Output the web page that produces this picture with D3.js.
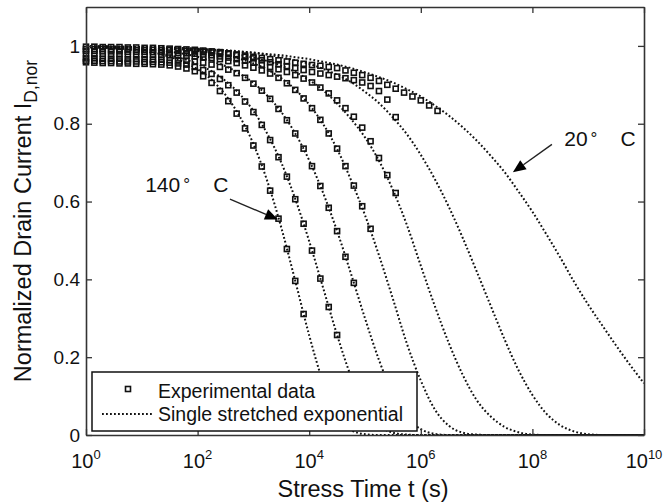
<!DOCTYPE html>
<html><head><meta charset="utf-8">
<script src="https://cdn.jsdelivr.net/npm/d3@7"></script>
<style>
body{margin:0;background:#fff}
svg{display:block}
text{font-family:"Liberation Sans",Arial,Helvetica,sans-serif;fill:#111}
</style>
</head><body>
<svg id="c" width="664" height="503"></svg>
<script>
// ---------- data (log10 of stress time, normalized current) ----------
const xTickExps = [0, 2, 4, 6, 8, 10];
const yTicks = [0, 0.2, 0.4, 0.6, 0.8, 1];

// grid for the fitted (single stretched exponential) curves, log10(t)
const fitLogT = [0,0.5,1,1.5,2,2.25,2.5,2.75,3,3.25,3.5,3.75,4,4.25,4.5,4.75,5,5.25,5.5,5.75,6,6.25,6.5,6.75,7,7.25,7.5,7.75,8,8.25,8.5,8.75,9,9.25,9.5,9.75,10];
const fit140 = [0.997,0.994,0.987,0.972,0.940,0.913,0.874,0.820,0.748,0.652,0.533,0.396,0.256,0.135,0.053,0.013,0.002,0,0,0,0,0,0,0,0,0,0,0,0,0,0,0,0,0,0,0,0];
const fitB   = [0.997,0.994,0.987,0.976,0.953,0.935,0.910,0.877,0.833,0.774,0.700,0.607,0.498,0.378,0.257,0.150,0.071,0.025,0.006,0.001,0,0,0,0,0,0,0,0,0,0,0,0,0,0,0,0,0];
const fitC   = [0.998,0.996,0.992,0.985,0.972,0.961,0.948,0.929,0.905,0.872,0.830,0.775,0.706,0.622,0.524,0.414,0.300,0.193,0.106,0.047,0.015,0.003,0,0,0,0,0,0,0,0,0,0,0,0,0,0,0];
const fitD   = [0.999,0.998,0.996,0.993,0.987,0.982,0.976,0.967,0.955,0.939,0.917,0.888,0.849,0.799,0.735,0.655,0.565,0.462,0.350,0.235,0.140,0.066,0.024,0.006,0.001,0,0,0,0,0,0,0,0,0,0,0,0];
const fitE   = [0.999,0.998,0.997,0.994,0.990,0.987,0.983,0.977,0.970,0.961,0.949,0.933,0.912,0.886,0.852,0.812,0.765,0.705,0.630,0.540,0.435,0.332,0.237,0.155,0.090,0.048,0.021,0.007,0.001,0,0,0,0,0,0,0,0];
const fitF   = [0.999,0.998,0.997,0.996,0.993,0.991,0.989,0.986,0.982,0.977,0.971,0.963,0.954,0.941,0.926,0.907,0.882,0.853,0.816,0.773,0.720,0.658,0.587,0.507,0.421,0.333,0.246,0.167,0.103,0.055,0.025,0.009,0.002,0,0,0,0];
const fit20  = [0.998,0.997,0.996,0.994,0.991,0.990,0.988,0.985,0.983,0.979,0.976,0.971,0.966,0.959,0.952,0.943,0.932,0.920,0.906,0.889,0.870,0.847,0.821,0.791,0.757,0.718,0.676,0.626,0.574,0.516,0.456,0.393,0.335,0.282,0.230,0.180,0.133];

// measurement times, log10(t); each data series uses the first N entries
const dataLogT = [0,0.15,0.3,0.45,0.6,0.75,0.9,1.05,1.2,1.35,1.5,1.65,1.8,1.95,2.1,2.25,2.4,2.55,2.7,2.85,3,3.15,3.3,3.45,3.6,3.75,3.9,4.05,4.2,4.35,4.5,4.65,4.8,4.95,5.1,5.25,5.4,5.55,5.7,5.85,6,6.15,6.3];
const data140 = [0.958,0.957,0.956,0.956,0.955,0.955,0.954,0.954,0.953,0.952,0.950,0.947,0.942,0.935,0.922,0.905,0.884,0.858,0.826,0.788,0.744,0.690,0.628,0.556,0.478,0.396,0.311];
const dataB   = [0.962,0.962,0.961,0.961,0.960,0.960,0.960,0.959,0.959,0.958,0.957,0.955,0.952,0.946,0.938,0.928,0.915,0.899,0.880,0.857,0.830,0.797,0.758,0.714,0.664,0.606,0.543,0.474,0.402,0.329,0.257];
const dataC   = [0.968,0.968,0.967,0.967,0.967,0.966,0.966,0.966,0.965,0.965,0.964,0.963,0.962,0.960,0.957,0.952,0.946,0.939,0.930,0.918,0.903,0.885,0.864,0.838,0.809,0.775,0.736,0.691,0.640,0.584,0.524,0.458,0.391];
const dataD   = [0.979,0.979,0.979,0.978,0.978,0.978,0.977,0.977,0.977,0.976,0.976,0.975,0.974,0.973,0.971,0.969,0.966,0.961,0.956,0.950,0.944,0.937,0.929,0.918,0.904,0.887,0.865,0.840,0.810,0.775,0.736,0.691,0.641,0.588,0.530];
const dataE   = [0.987,0.987,0.986,0.986,0.986,0.985,0.985,0.985,0.984,0.984,0.983,0.982,0.981,0.980,0.978,0.976,0.973,0.970,0.966,0.962,0.957,0.952,0.946,0.940,0.933,0.925,0.916,0.906,0.893,0.878,0.860,0.840,0.818,0.790,0.755,0.712,0.668,0.622];
const dataF   = [0.992,0.992,0.992,0.991,0.991,0.991,0.990,0.990,0.990,0.989,0.989,0.988,0.987,0.986,0.985,0.983,0.981,0.979,0.976,0.972,0.968,0.963,0.958,0.953,0.948,0.943,0.938,0.933,0.929,0.925,0.921,0.917,0.912,0.906,0.897,0.884,0.862,0.817];
const data20  = [0.998,0.998,0.997,0.997,0.997,0.996,0.996,0.995,0.995,0.994,0.993,0.992,0.991,0.990,0.988,0.986,0.984,0.981,0.978,0.975,0.972,0.969,0.966,0.963,0.960,0.957,0.954,0.951,0.949,0.946,0.943,0.937,0.931,0.925,0.918,0.910,0.900,0.890,0.880,0.870,0.860,0.847,0.833];

const fits = [fit140, fitB, fitC, fitD, fitE, fitF, fit20];
const datas = [data140, dataB, dataC, dataD, dataE, dataF, data20];

const legendLabels = ["Experimental data", "Single stretched exponential"];
const xTitle = "Stress Time t (s)";
// annotations: [text, textLogT, textI, tailLogT, tailI, tipLogT, tipI]
const annotations = [
  ["140", 1.06, 0.624, 2.58, 0.606, 3.44, 0.554],
  ["20", 8.57, 0.742, 8.35, 0.747, 7.65, 0.675]
];

// ---------- drawing ----------
const svg = d3.select("#c");
const L = 86, R = 644, T = 7, B = 435;
const x = d3.scaleLog().domain([1, 1e10]).range([L, R]);
const y = d3.scaleLinear().domain([0, 1.1]).range([B, T]);
const X = lt => x(Math.pow(10, lt));

svg.append("rect").attr("width", 664).attr("height", 503).attr("fill", "#fff");

const line = d3.line().x(d => X(d[0])).y(d => y(d[1])).curve(d3.curveMonotoneX);

const gPlot = svg.append("g");
// fitted curves, dotted
fits.forEach(f => {
  gPlot.append("path")
    .attr("d", line(fitLogT.map((t, i) => [t, f[i]])))
    .attr("fill", "none").attr("stroke", "#111")
    .attr("stroke-width", 2).attr("stroke-dasharray", "1.8,2.2");
});
// experimental squares
const sq = 5;
datas.forEach(dv => {
  gPlot.selectAll(null).data(dv.map((v, i) => [dataLogT[i], v])).enter()
    .append("rect")
    .attr("x", d => X(d[0]) - sq / 2).attr("y", d => y(d[1]) - sq / 2)
    .attr("width", sq).attr("height", sq)
    .attr("fill", "none").attr("stroke", "#111").attr("stroke-width", 1.6);
});

// axes
const tickVals = xTickExps.map(e => Math.pow(10, e));
svg.append("g").attr("transform", `translate(0,${B})`)
  .call(d3.axisBottom(x).tickValues(tickVals).tickSize(-6).tickSizeOuter(0).tickFormat(""));
svg.append("g").attr("transform", `translate(0,${T})`)
  .call(d3.axisTop(x).tickValues(tickVals).tickSize(-6).tickSizeOuter(0).tickFormat(""));
svg.append("g").attr("transform", `translate(${L},0)`)
  .call(d3.axisLeft(y).tickValues(yTicks).tickSize(-6).tickSizeOuter(0).tickPadding(6).tickFormat(d3.format("")))
  .selectAll("text").style("font-size", "19px").attr("font-family", null).attr("fill", "#111");
svg.append("g").attr("transform", `translate(${R},0)`)
  .call(d3.axisRight(y).tickValues(yTicks).tickSize(-6).tickSizeOuter(0).tickFormat(""));
svg.selectAll(".domain").attr("stroke", "#333").attr("stroke-width", 1.6);
svg.selectAll(".tick line").attr("stroke", "#333").attr("stroke-width", 1.3);

// x tick labels 10^k
xTickExps.forEach(e => {
  const t = svg.append("text").attr("x", X(e)).attr("y", 468)
    .attr("text-anchor", "middle").style("font-size", "20px");
  t.append("tspan").text("10");
  t.append("tspan").attr("dy", -9).style("font-size", "13px").text(e);
});

// axis titles
svg.append("text").attr("x", 363).attr("y", 497).attr("text-anchor", "middle")
  .style("font-size", "23.5px").text(xTitle);
const yt = svg.append("text").attr("transform", `translate(31,${(T + B) / 2}) rotate(-90)`)
  .attr("text-anchor", "middle").style("font-size", "23.5px");
yt.append("tspan").text("Normalized Drain Current I");
yt.append("tspan").attr("dy", 6).style("font-size", "17.5px").text("D,nor");

// annotations
annotations.forEach(a => {
  const tx = X(a[1]), ty = y(a[2]);
  svg.append("text").attr("x", tx).attr("y", ty).style("font-size", "21px").text(a[0]);
  const w = a[0].length * 11.7;
  svg.append("text").attr("x", tx + w + 3).attr("y", ty - 2).style("font-size", "17px").text("°");
  svg.append("text").attr("x", tx + w + 33).attr("y", ty).style("font-size", "21px").text("C");
  const x1 = X(a[3]), y1 = y(a[4]), x2 = X(a[5]), y2 = y(a[6]);
  const ang = Math.atan2(y2 - y1, x2 - x1), hl = 13, hw = 5.5;
  const bx = x2 - hl * Math.cos(ang), by = y2 - hl * Math.sin(ang);
  svg.append("line").attr("x1", x1).attr("y1", y1).attr("x2", bx).attr("y2", by)
    .attr("stroke", "#222").attr("stroke-width", 1.4);
  svg.append("path").attr("d", `M${x2},${y2}L${bx - hw * Math.sin(ang)},${by + hw * Math.cos(ang)}L${bx + hw * Math.sin(ang)},${by - hw * Math.cos(ang)}Z`)
    .attr("fill", "#000");
});

// legend
const lg = svg.append("g");
lg.append("rect").attr("x", 92).attr("y", 372).attr("width", 325).attr("height", 59)
  .attr("fill", "#fff").attr("stroke", "#111").attr("stroke-width", 1.5);
lg.append("rect").attr("x", 128 - sq / 2).attr("y", 389 - sq / 2).attr("width", sq).attr("height", sq)
  .attr("fill", "none").attr("stroke", "#111").attr("stroke-width", 1.6);
lg.append("line").attr("x1", 102).attr("x2", 153).attr("y1", 414).attr("y2", 414)
  .attr("stroke", "#111").attr("stroke-width", 2).attr("stroke-dasharray", "1.8,2.2");
lg.append("text").attr("x", 158).attr("y", 398).style("font-size", "19.5px").text(legendLabels[0]);
lg.append("text").attr("x", 158).attr("y", 421).style("font-size", "19.5px").text(legendLabels[1]);
</script>
</body></html>
